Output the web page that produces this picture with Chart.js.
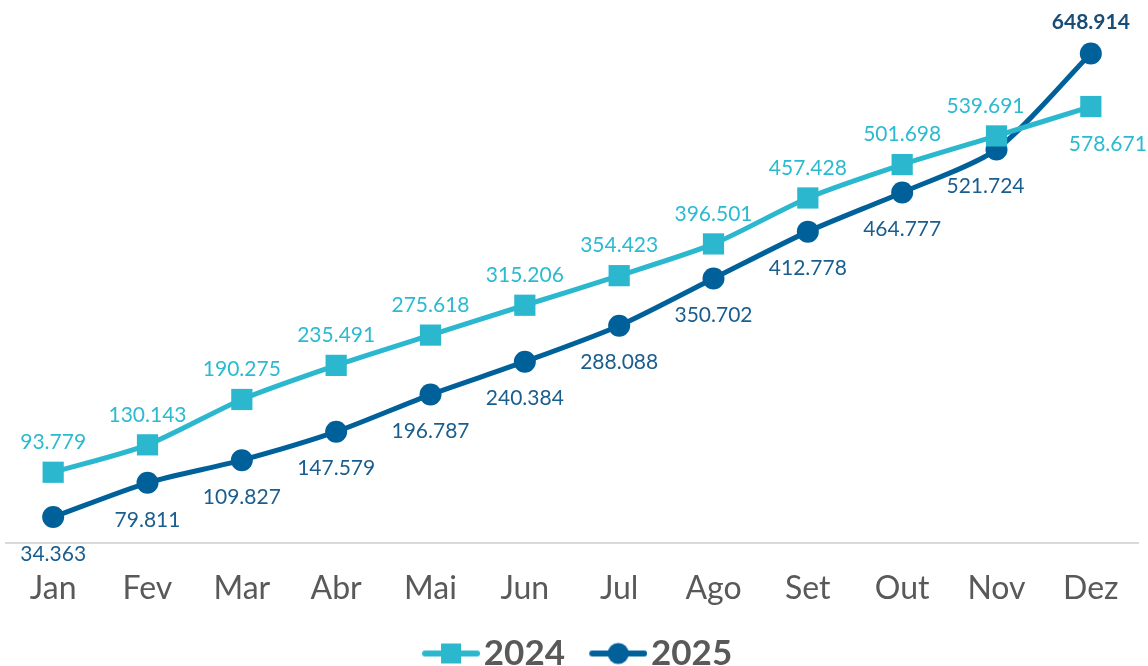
<!DOCTYPE html>
<html lang="pt">
<head>
  <meta charset="UTF-8" />
  <title>2024 x 2025</title>
  <script src="https://cdn.jsdelivr.net/npm/chart.js"></script>
  <style>
    body { margin: 0; background: #ffffff; }
    .wrap { width: 1148px; height: 666px; }
  </style>
</head>
<body>
  <div class="wrap">
    <canvas id="chart"></canvas>
  </div>

  <script>
    const months = ['Jan', 'Fev', 'Mar', 'Abr', 'Mai', 'Jun', 'Jul', 'Ago', 'Set', 'Out', 'Nov', 'Dez'];
    const values2024 = [93779, 130143, 190275, 235491, 275618, 315206, 354423, 396501, 457428, 501698, 539691, 578671];
    const values2025 = [34363, 79811, 109827, 147579, 196787, 240384, 288088, 350702, 412778, 464777, 521724, 648914];

    const cyan = '#2bb8cf';
    const blue = '#00619a';

    const fmt = v => v.toString().replace(/\B(?=(\d{3})+(?!\d))/g, '.');

    // line+marker icons for the legend (icon sits on the right side of the image)
    function legendIcon(color, shape) {
      const c = document.createElement('canvas');
      c.width = 82; c.height = 24;
      const g = c.getContext('2d');
      g.strokeStyle = color;
      g.fillStyle = color;
      g.lineWidth = 6;
      g.lineCap = 'round';
      g.beginPath(); g.moveTo(27, 12); g.lineTo(79, 12); g.stroke();
      if (shape === 'rect') {
        g.fillRect(43, 2, 20, 20);
      } else {
        g.beginPath(); g.arc(53, 12, 10.5, 0, Math.PI * 2); g.fill();
      }
      return c;
    }
    const icons = [legendIcon(cyan, 'rect'), legendIcon(blue, 'circle')];

    const valueLabels = {
      id: 'valueLabels',
      afterDatasetsDraw(chart) {
        const ctx = chart.ctx;
        ctx.save();
        ctx.textAlign = 'center';
        ctx.textBaseline = 'middle';
        chart.data.datasets.forEach((ds, di) => {
          const meta = chart.getDatasetMeta(di);
          meta.data.forEach((pt, i) => {
            const last = i === ds.data.length - 1;
            let dx = 0, dy, color, weight = 'normal';
            if (di === 0) {
              color = '#2bbad0';
              dy = last ? 38 : -30;
              if (last) dx = 17;
              if (i === 10) dx = -11;
            } else {
              color = '#1a5e8f';
              dy = last ? -31 : 37;
              if (i === 10) dx = -11;
              if (last) { weight = 'bold'; color = '#184d78'; }
            }
            ctx.font = weight + ' 21px Lato';
            ctx.fillStyle = color;
            ctx.fillText(fmt(ds.data[i]), pt.x + dx, pt.y + dy);
          });
        });
        ctx.restore();
      }
    };

    new Chart(document.getElementById('chart'), {
      type: 'line',
      data: {
        labels: months,
        datasets: [{
          label: '2024',
          data: values2024,
          borderColor: cyan,
          backgroundColor: cyan,
          borderWidth: 5,
          pointStyle: 'rect',
          pointRadius: 15,
          pointBorderWidth: 0,
          tension: 0.25
        }, {
          label: '2025',
          data: values2025,
          borderColor: blue,
          backgroundColor: blue,
          borderWidth: 5,
          pointStyle: 'circle',
          pointRadius: 11,
          pointBorderWidth: 0,
          tension: 0.25
        }]
      },
      options: {
        responsive: true,
        maintainAspectRatio: false,
        animation: false,
        layout: { autoPadding: false, padding: { top: 15, left: 6, right: 10, bottom: -15 } },
        plugins: {
          tooltip: { enabled: false },
          legend: {
            position: 'bottom',
            labels: {
              usePointStyle: true,
              pointStyleWidth: 54.5,
              padding: 14,
              color: '#595959',
              font: { family: 'Lato', size: 35, weight: 'bold' },
              generateLabels(chart) {
                const items = Chart.defaults.plugins.legend.labels.generateLabels(chart);
                items.forEach((it, i) => { it.pointStyle = icons[i]; });
                return items;
              }
            }
          }
        },
        scales: {
          x: {
            offset: true,
            grid: { display: false, drawTicks: true, tickLength: 13 },
            border: { display: true, color: '#d9d9d9', width: 2 },
            ticks: {
              color: '#595959',
              padding: 0,
              font: { family: 'Lato', size: 32, lineHeight: 2.0625 }
            }
          },
          y: {
            display: false,
            min: 0,
            max: 700000
          }
        }
      },
      plugins: [valueLabels]
    });
  </script>
</body>
</html>
